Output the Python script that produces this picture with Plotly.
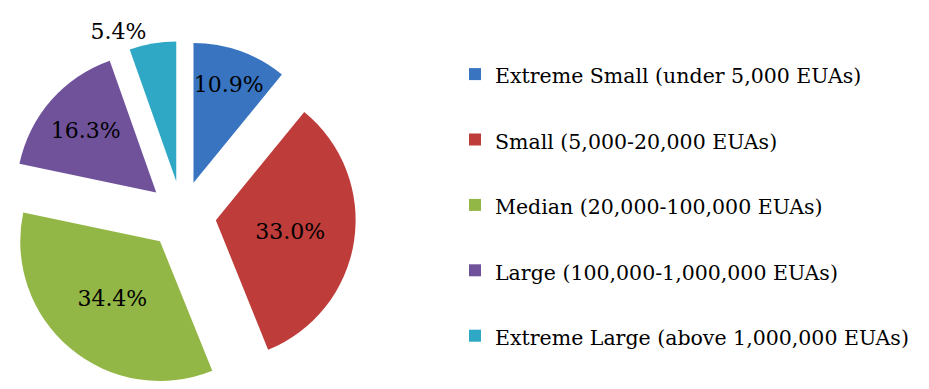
import plotly.graph_objects as go

labels = [
    "Extreme Small (under 5,000 EUAs)",
    "Small (5,000-20,000 EUAs)",
    "Median (20,000-100,000 EUAs)",
    "Large (100,000-1,000,000 EUAs)",
    "Extreme Large (above 1,000,000 EUAs)",
]
values = [10.9, 33.0, 34.4, 16.3, 5.4]
colors = ["#3874C0", "#BE3C39", "#93B746", "#70529B", "#2FA8C6"]
text_pos = ["inside", "inside", "inside", "inside", "outside"]

SERIF = "DejaVu Serif"
W, H = 929, 389
legend_labels = ["<span style='font-size:20.5px'>%s</span><br> " % l for l in labels]

fig = go.Figure(go.Pie(
    labels=legend_labels,
    values=values,
    sort=False,
    direction="clockwise",
    rotation=0,
    pull=0.245,
    marker=dict(colors=colors, line=dict(width=0)),
    texttemplate="%{value:.1f}%",
    textposition=text_pos,
    insidetextorientation="horizontal",
    textfont=dict(family=SERIF, size=22, color="black"),
    domain=dict(x=[8 / W, 356 / W], y=[0, 348 / H]),
    hoverinfo="label+value",
))

fig.update_layout(
    width=W, height=H,
    margin=dict(l=0, r=0, t=0, b=0, autoexpand=False),
    paper_bgcolor="white",
    plot_bgcolor="white",
    uniformtext=dict(mode="show", minsize=22),
    font=dict(family=SERIF, size=24, color="black"),
    legend=dict(
        x=455 / W, y=1 - 52 / H, xanchor="left", yanchor="top",
        font=dict(family=SERIF, size=24, color="black"),
        valign="top",
        bgcolor="rgba(0,0,0,0)",
        maxheight=1.0,
    ),
    showlegend=True,
)

fig.write_html("out.html")
